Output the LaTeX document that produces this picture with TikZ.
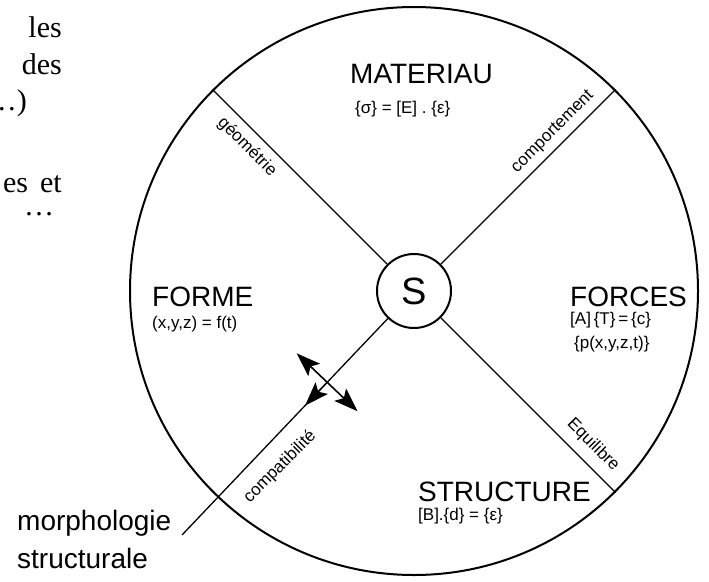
\documentclass[tikz,border=0pt]{standalone}
\usepackage{fontspec}
\setsansfont{Liberation Sans}
\setmainfont{Liberation Serif}
\usetikzlibrary{arrows.meta,calc}
\begin{document}
\begin{tikzpicture}[x=1pt,y=-1pt,
  big/.style={font=\sffamily\fontsize{28}{30}\selectfont, inner sep=0pt},
  frm/.style={font=\sffamily\fontsize{17}{19}\selectfont, inner sep=0pt},
  lbl/.style={font=\sffamily\fontsize{17}{19}\selectfont, inner sep=0pt},
  body/.style={font=\rmfamily\fontsize{30}{33}\selectfont, inner sep=0pt},
  ring/.style={draw, circle, line width=2pt, inner sep=0pt},
  spoke/.style={line width=1.3pt},
  tip/.style={-{Stealth[length=24pt,width=17pt,inset=5pt]}},
  dbl/.style={line width=1.6pt, {Stealth[length=24pt,width=17pt,inset=5pt]}-{Stealth[length=24pt,width=17pt,inset=5pt]}},
]
\useasboundingbox (0,0) rectangle (709,581);
\node[ring, minimum size=568pt] (O) at (414,291) {};
\node[ring, minimum size=74pt, font=\sffamily\fontsize{38}{40}\selectfont] (S) at (414,291) {S};
\draw[spoke] (S.135) -- (O.135);
\draw[spoke] (S.45) -- (O.45);
\draw[spoke] (S.-45) -- (O.-45);
\coordinate (mend) at (182,535);
\draw[spoke] (S) -- (mend);
\coordinate (P) at ($(S.center)!126pt!(mend)$);
\coordinate (pa) at ($(P)!42pt!90:(mend)$);
\coordinate (pb) at ($(P)!42pt!-90:(mend)$);
\coordinate (pc) at ($(P)!32pt!(mend)$);
\draw[dbl] (pa) -- (pb);
\draw[spoke, tip] (P) -- (pc);
\node[big, anchor=base west] (mat) at (350,83) {MATERIAU};
\node[frm, anchor=base west] (matf) at (355,113) {\{σ\} = [E] . \{ε\}};
\node[big, anchor=base west] (forme) at (152,306) {FORME};
\node[frm, anchor=base west] (formef) at (152,328) {(x,y,z) = f(t)};
\node[big, anchor=base west] (forces) at (570,306) {FORCES};
\node[frm, anchor=base west] (forcesf1) at (570,324) {[A]\,\{T\}\,=\,\{c\}};
\node[frm, anchor=base west] (forcesf2) at (574,348) {\{p(x,y,z,t)\}};
\node[big, anchor=base west] (struc) at (418,501) {STRUCTURE};
\node[frm, anchor=base west] (strucf) at (418,520) {[B].\{d\} = \{ε\}};
\node[lbl, rotate=-45] (geo) at (247,147) {géométrie};
\node[lbl, rotate=45] (comp) at (553,132) {comportement};
\node[lbl, rotate=-45] (equi) at (593,445) {Equilibre};
\node[lbl, rotate=45] (compa) at (280,467) {compatibilité};
\node[big, anchor=base west] (morph1) at (17,530) {morphologie};
\node[big, anchor=base west] (morph2) at (17,568) {structurale};
\node[body, anchor=base east] (t1) at (62,37) {les};
\node[body, anchor=base east] (t2) at (62,74) {des};
\node[body, anchor=base east] (t3) at (27,110) {…)};
\node[body, anchor=base east] (t4) at (62,192) {es\hspace{12pt}et};
\node[body, anchor=base west] (t5) at (24,215) {…};
\end{tikzpicture}
\end{document}
